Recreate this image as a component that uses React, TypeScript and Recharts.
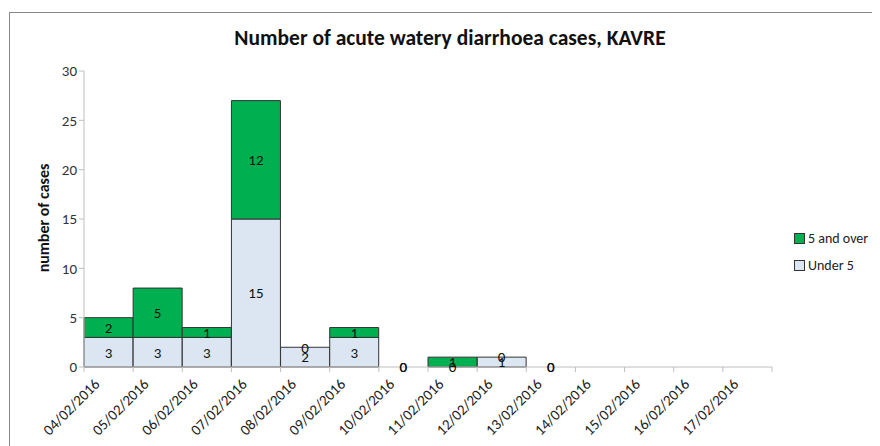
import { BarChart, Bar, XAxis, YAxis, LabelList, Rectangle } from "recharts";

const dates = [
  "04/02/2016", "05/02/2016", "06/02/2016", "07/02/2016", "08/02/2016",
  "09/02/2016", "10/02/2016", "11/02/2016", "12/02/2016", "13/02/2016",
  "14/02/2016", "15/02/2016", "16/02/2016", "17/02/2016",
];
const under5 = [3, 3, 3, 15, 2, 3, 0, 0, 1, 0, null, null, null, null];
const over5 = [2, 5, 1, 12, 0, 1, 0, 1, 0, 0, null, null, null, null];
const yTicks = [0, 5, 10, 15, 20, 25, 30];

const data = dates.map((d, i) => ({ date: d, under5: under5[i], over5: over5[i] }));

const FONT = "Carlito, 'Liberation Sans Narrow', 'Open Sans', sans-serif";
const W = 872;
const H = 438;
const M = { top: 63, right: 108, left: 0, bottom: 0 };
const Y_W = 76;
const BAND = (W - M.right - M.left - Y_W) / dates.length;

function DateTick(props: any) {
  const { x, y, payload, index } = props;
  const last = index === dates.length - 1;
  const tx = x - 8;
  const ty = y + 10;
  return (
    <g>
      <line x1={x - BAND / 2} x2={x - BAND / 2} y1={y - 8} y2={y - 3} stroke="#BFBFBF" />
      {last && <line x1={x + BAND / 2} x2={x + BAND / 2} y1={y - 8} y2={y - 3} stroke="#BFBFBF" />}
      <text
        x={tx}
        y={ty}
        transform={`rotate(-45 ${tx} ${ty})`}
        textAnchor="end"
        fontSize={15}
        fill="#222"
        fontFamily={FONT}
      >
        {payload.value}
      </text>
    </g>
  );
}

// only draw a segment when it has a height; zero segments keep their label
function Segment(props: any) {
  if (!props.height || props.height < 0.5) return null;
  return <Rectangle {...props} />;
}

export default function App() {
  return (
    <div style={{ position: "relative", width: W, height: H, fontFamily: FONT }}>
      <div
        style={{
          position: "absolute",
          left: 1,
          top: 4,
          width: W,
          height: H,
          borderLeft: "1px solid #888",
          borderTop: "1px solid #888",
        }}
      />
      <div
        style={{
          position: "absolute",
          left: 0,
          width: W + 12,
          top: 17,
          textAlign: "center",
          fontWeight: "bold",
          fontSize: 21.5,
          color: "#111",
          whiteSpace: "nowrap",
        }}
      >
        Number of acute watery diarrhoea cases, KAVRE
      </div>
      <div
        style={{
          position: "absolute",
          left: 35,
          top: 210,
          transform: "translate(-50%, -50%) rotate(-90deg)",
          fontWeight: "bold",
          fontSize: 16,
          whiteSpace: "nowrap",
          color: "#111",
        }}
      >
        number of cases
      </div>
      <div
        style={{
          position: "absolute",
          left: 786,
          top: 217,
          fontSize: 14,
          color: "#222",
          whiteSpace: "nowrap",
        }}
      >
        {[
          { name: "5 and over", color: "#00B050" },
          { name: "Under 5", color: "#DCE6F2" },
        ].map((it) => (
          <div key={it.name} style={{ display: "flex", alignItems: "center", height: 27 }}>
            <span
              style={{
                width: 9,
                height: 9,
                background: it.color,
                border: "1px solid #333",
                marginRight: 3,
              }}
            />
            {it.name}
          </div>
        ))}
      </div>
      <BarChart
        width={W}
        height={H}
        data={data}
        margin={M}
        barCategoryGap={0}
        style={{ position: "absolute", left: 0, top: 0 }}
      >
        <XAxis
          dataKey="date"
          interval={0}
          height={79}
          tickLine={false}
          axisLine={{ stroke: "#BFBFBF" }}
          tick={<DateTick />}
        />
        <YAxis
          domain={[0, 30]}
          ticks={yTicks}
          width={Y_W}
          tickSize={5}
          tickLine={{ stroke: "#BFBFBF" }}
          axisLine={{ stroke: "#BFBFBF" }}
          tick={{ fontSize: 15, fill: "#333", fontFamily: FONT }}
        />
        <Bar
          dataKey="under5"
          stackId="a"
          fill="#DCE6F2"
          stroke="#333"
          strokeWidth={1}
          minPointSize={0.01}
          shape={<Segment />}
          isAnimationActive={false}
        >
          <LabelList dataKey="under5" position="center" fill="#111" fontSize={15} fontFamily={FONT} />
        </Bar>
        <Bar
          dataKey="over5"
          stackId="a"
          fill="#00B050"
          stroke="#333"
          strokeWidth={1}
          minPointSize={0.01}
          shape={<Segment />}
          isAnimationActive={false}
        >
          <LabelList dataKey="over5" position="center" fill="#111" fontSize={15} fontFamily={FONT} />
        </Bar>
      </BarChart>
    </div>
  );
}
